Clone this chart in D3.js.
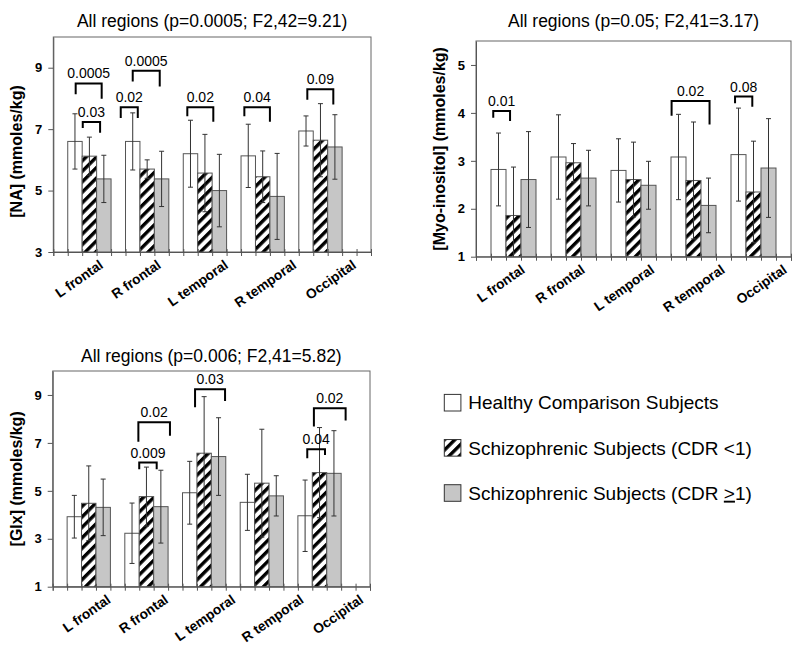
<!DOCTYPE html>
<html>
<head>
<meta charset="utf-8">
<script src="https://cdn.jsdelivr.net/npm/d3@7/dist/d3.min.js"></script>
<style>
  body { margin: 0; background: #fff; }
  svg { display: block; font-family: 'Liberation Sans', Arial, sans-serif; }
</style>
</head>
<body>
<svg id="chart" width="800" height="652"></svg>
<script>
var regions = ['L frontal', 'R frontal', 'L temporal', 'R temporal', 'Occipital'];
var groups = ['Healthy Comparison Subjects', 'Schizophrenic Subjects (CDR <1)', 'Schizophrenic Subjects (CDR \u22651)'];

// means and SDs, one row per group (healthy, CDR <1, CDR >=1)
var naMean = [
  [6.60, 6.60, 6.20, 6.13, 6.94],
  [6.12, 5.70, 5.57, 5.45, 6.64],
  [5.38, 5.38, 5.00, 4.81, 6.42]
];
var naSd = [
  [0.90, 0.93, 1.09, 1.03, 0.49],
  [0.62, 0.30, 1.26, 0.84, 1.19],
  [0.77, 0.90, 1.18, 1.40, 1.05]
];
var myoMean = [
  [2.82, 3.08, 2.80, 3.08, 3.13],
  [1.86, 2.96, 2.61, 2.59, 2.35],
  [2.61, 2.64, 2.49, 2.07, 2.85]
];
var myoSd = [
  [0.76, 0.88, 0.66, 0.89, 0.97],
  [1.01, 0.40, 0.78, 1.22, 1.06],
  [1.00, 0.58, 0.50, 0.57, 1.03]
];
var glxMean = [
  [3.92, 3.23, 4.92, 4.52, 3.96],
  [4.48, 4.76, 6.57, 5.32, 5.76],
  [4.31, 4.34, 6.43, 4.79, 5.73]
];
var glxSd = [
  [0.89, 1.26, 1.31, 1.17, 1.49],
  [1.56, 1.23, 2.36, 2.25, 1.88],
  [1.18, 1.52, 1.62, 0.84, 1.78]
];

var naTicks = [3, 5, 7, 9];
var myoTicks = [1, 2, 3, 4, 5];
var glxTicks = [1, 3, 5, 7, 9];

// pairwise p-values: [region, from bar, to bar, top, left leg end, right leg end, label]
var naBrackets = [
  [0, 0.05, 1.85, 8.49, 8.14, 7.99, '0.0005'],
  [0, 0.54, 1.74, 7.23, 7.04, 6.88, '0.03'],
  [1, -0.83, 0.35, 7.71, 7.36, 7.36, '0.02'],
  [1, 0.0, 1.87, 8.90, 8.55, 8.39, '0.0005'],
  [2, -0.22, 1.58, 7.71, 7.42, 7.24, '0.02'],
  [3, -0.27, 1.50, 7.71, 7.42, 7.24, '0.04'],
  [4, 0.09, 1.89, 8.30, 7.96, 7.80, '0.09']
];
var myoBrackets = [
  [0, -0.35, 0.77, 4.04, 3.90, 3.83, '0.01'],
  [3, -0.46, 2.07, 4.25, 3.94, 3.76, '0.02'],
  [4, -0.23, 0.92, 4.34, 4.20, 4.13, '0.08']
];
var glxBrackets = [
  [1, 0.44, 2.63, 7.86, 7.05, 7.30, '0.02'],
  [1, 0.50, 1.71, 6.18, 5.90, 5.90, '0.009'],
  [2, 0.37, 2.45, 9.24, 8.49, 8.75, '0.03'],
  [4, 0.15, 1.38, 6.74, 6.36, 6.50, '0.04'],
  [4, 0.61, 2.81, 8.45, 7.68, 7.93, '0.02']
];

var svg = d3.select('#chart');

svg.append('rect')
  .attr('width', 800)
  .attr('height', 652)
  .attr('fill', '#fff');

var defs = svg.append('defs');
var hatch = defs.append('pattern')
  .attr('id', 'hatch')
  .attr('patternUnits', 'userSpaceOnUse')
  .attr('width', 7.4)
  .attr('height', 7.4)
  .attr('patternTransform', 'rotate(45)');
hatch.append('rect').attr('width', 7.4).attr('height', 7.4).attr('fill', '#fff');
hatch.append('rect').attr('width', 3.4).attr('height', 7.4).attr('fill', '#000');

var fills = ['#fff', 'url(#hatch)', '#c6c6c6'];
var labelNudge = [0, 0, 9.5, 20, 22];

var panels = [
  { title: 'All regions (p=0.0005; F2,42=9.21)', yLabel: '[NA] (mmoles/kg)',
    mean: naMean, sd: naSd, ticks: naTicks, brackets: naBrackets, domain: [3, 10],
    left: 53.3, right: 371, top: 37, bottom: 252, slots: 22, titleY: 27, labelShift: 14.7, yLabelShift: 7 },
  { title: 'All regions (p=0.05; F2,41=3.17)', yLabel: '[Myo-inositol] (mmoles/kg)',
    mean: myoMean, sd: myoSd, ticks: myoTicks, brackets: myoBrackets, domain: [1, 5.5],
    left: 476, right: 791, top: 41, bottom: 256.7, slots: 21, titleY: 26.7, labelShift: 12.3, yLabelShift: 0 },
  { title: 'All regions (p=0.006; F2,41=5.82)', yLabel: '[Glx] (mmoles/kg)',
    mean: glxMean, sd: glxSd, ticks: glxTicks, brackets: glxBrackets, domain: [1, 10],
    left: 52.7, right: 370, top: 371, bottom: 586.7, slots: 22, titleY: 362, labelShift: 22.8, yLabelShift: 0 }
];

function slotOf(region, bar) {
  return 1 + 4 * region + bar;
}

function drawPanel(p) {
  var g = svg.append('g').attr('class', 'panel');

  var x = d3.scaleLinear().domain([0, p.slots]).range([p.left, p.right]);
  var y = d3.scaleLinear().domain(p.domain).range([p.bottom, p.top]);
  var bw = x(1) - x(0);

  g.append('rect')
    .attr('x', p.left)
    .attr('y', p.top)
    .attr('width', p.right - p.left)
    .attr('height', p.bottom - p.top)
    .attr('fill', 'none')
    .attr('stroke', '#666');

  var bars = [];
  p.mean.forEach(function (series, s) {
    series.forEach(function (v, r) {
      bars.push({ region: r, bar: s, value: v, sd: p.sd[s][r] });
    });
  });

  g.selectAll('rect.bar')
    .data(bars)
    .enter()
    .append('rect')
    .attr('class', 'bar')
    .attr('x', function (d) { return x(slotOf(d.region, d.bar)); })
    .attr('y', function (d) { return y(d.value); })
    .attr('width', bw)
    .attr('height', function (d) { return y(p.domain[0]) - y(d.value); })
    .attr('fill', function (d) { return fills[d.bar]; })
    .attr('stroke', '#555')
    .attr('stroke-width', 1);

  // error bars
  var err = g.selectAll('g.err')
    .data(bars)
    .enter()
    .append('g')
    .attr('class', 'err')
    .attr('stroke', '#333')
    .attr('stroke-width', 1);

  var cx = function (d) { return x(slotOf(d.region, d.bar) + 0.5); };
  var lo = function (d) { return Math.max(p.domain[0], d.value - d.sd); };

  err.append('line')
    .attr('x1', cx).attr('x2', cx)
    .attr('y1', function (d) { return y(d.value + d.sd); })
    .attr('y2', function (d) { return y(lo(d)); });
  err.append('line')
    .attr('x1', function (d) { return cx(d) - 2.5; })
    .attr('x2', function (d) { return cx(d) + 2.5; })
    .attr('y1', function (d) { return y(d.value + d.sd); })
    .attr('y2', function (d) { return y(d.value + d.sd); });
  err.filter(function (d) { return d.value - d.sd > p.domain[0]; })
    .append('line')
    .attr('x1', function (d) { return cx(d) - 2.5; })
    .attr('x2', function (d) { return cx(d) + 2.5; })
    .attr('y1', function (d) { return y(d.value - d.sd); })
    .attr('y2', function (d) { return y(d.value - d.sd); });

  // y axis
  var yAxis = g.append('g')
    .attr('transform', 'translate(' + p.left + ',0)')
    .call(d3.axisLeft(y).tickValues(p.ticks).tickFormat(d3.format('d'))
      .tickSizeInner(5).tickSizeOuter(0).tickPadding(6));
  yAxis.select('.domain').attr('stroke', '#555');
  yAxis.selectAll('.tick line').attr('stroke', '#555');
  yAxis.selectAll('.tick text')
    .attr('font-family', "'Liberation Sans Narrow', 'Arial Narrow', sans-serif")
    .attr('font-weight', 'bold')
    .attr('font-size', 13)
    .attr('fill', '#000');

  // x axis with a tick at every slot edge
  var xAxis = g.append('g')
    .attr('transform', 'translate(0,' + p.bottom + ')')
    .call(d3.axisBottom(x).tickValues(d3.range(p.slots + 1)).tickSize(4).tickFormat(''));
  xAxis.select('.domain').attr('stroke', '#555');
  xAxis.selectAll('.tick line').attr('y1', -3).attr('stroke', '#555');

  g.selectAll('text.cat')
    .data(regions)
    .enter()
    .append('text')
    .attr('class', 'cat')
    .attr('text-anchor', 'end')
    .attr('font-weight', 'bold')
    .attr('font-size', 13.7)
    .attr('transform', function (d, i) {
      var px = x(slotOf(i, 1.5)) + p.labelShift + labelNudge[i];
      return 'translate(' + px + ',' + (p.bottom + 15) + ') rotate(-35)';
    })
    .text(function (d) { return d; });

  // brackets
  var br = g.selectAll('g.bracket')
    .data(p.brackets)
    .enter()
    .append('g')
    .attr('class', 'bracket');

  br.append('path')
    .attr('d', function (d) {
      var x0 = x(slotOf(d[0], d[1]) + 0.5);
      var x1 = x(slotOf(d[0], d[2]) + 0.5);
      return 'M' + x0 + ',' + y(d[4]) + 'V' + y(d[3]) + 'H' + x1 + 'V' + y(d[5]);
    })
    .attr('fill', 'none')
    .attr('stroke', '#000')
    .attr('stroke-width', 2);

  br.append('text')
    .attr('x', function (d) {
      return (x(slotOf(d[0], d[1]) + 0.5) + x(slotOf(d[0], d[2]) + 0.5)) / 2;
    })
    .attr('y', function (d) { return y(d[3]) - 5; })
    .attr('text-anchor', 'middle')
    .attr('font-size', 14)
    .text(function (d) { return d[6]; });

  g.append('text')
    .attr('x', (p.left + p.right) / 2)
    .attr('y', p.titleY)
    .attr('text-anchor', 'middle')
    .attr('font-size', 17.5)
    .text(p.title);

  g.append('text')
    .attr('transform', 'translate(' + (p.left - 31) + ',' + ((p.top + p.bottom) / 2 + p.yLabelShift) + ') rotate(-90)')
    .attr('text-anchor', 'middle')
    .attr('font-weight', 'bold')
    .attr('font-size', 16)
    .text(p.yLabel);
}

panels.forEach(drawPanel);

// legend
var legendRow = d3.scaleLinear().domain([0, 2]).range([402.7, 493]);
var legend = svg.append('g')
  .selectAll('g.entry')
  .data(groups)
  .enter()
  .append('g')
  .attr('class', 'entry')
  .attr('transform', function (d, i) { return 'translate(444.3,' + legendRow(i) + ')'; });

legend.append('rect')
  .attr('y', -8.3)
  .attr('width', 16.6)
  .attr('height', 16.6)
  .attr('fill', function (d, i) { return fills[i]; })
  .attr('stroke', '#333');

legend.append('text')
  .attr('x', 24)
  .attr('y', 6.7)
  .attr('font-size', 19)
  .each(function (d) {
    var t = d3.select(this);
    var parts = d.split('\u2265');
    t.append('tspan').text(parts[0]);
    if (parts.length > 1) {
      t.append('tspan').attr('text-decoration', 'underline').text('>');
      t.append('tspan').text(parts[1]);
    }
  });
</script>
</body>
</html>
